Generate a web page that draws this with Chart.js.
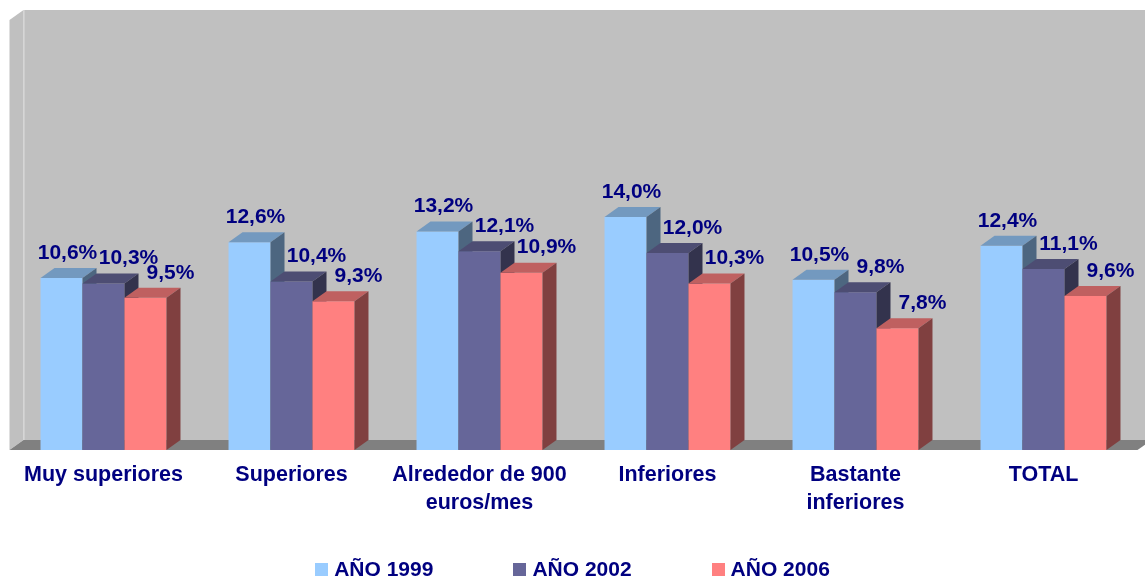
<!DOCTYPE html>
<html>
<head>
<meta charset="utf-8">
<script src="https://cdn.jsdelivr.net/npm/chart.js@4/dist/chart.umd.min.js"></script>
<style>
  body { margin: 0; background: #fff; }
  #wrap { position: relative; width: 1145px; height: 583px; }
  #legend {
    position: absolute; left: 0; right: 0; top: 557px;
    display: flex; justify-content: center; gap: 80px;
    font: bold 21px Arial, "Liberation Sans", sans-serif; color: #000080;
  }
  #legend span.item { display: flex; align-items: center; }
  #legend span.box { display: inline-block; width: 13px; height: 13px; margin-right: 6px; }
</style>
</head>
<body>
<div id="wrap">
  <canvas id="chart"></canvas>
  <div id="legend"></div>
</div>
<script>
var categories = ['Muy superiores', 'Superiores', ['Alrededor de 900', 'euros/mes'], 'Inferiores', ['Bastante', 'inferiores'], 'TOTAL'];
var seriesNames = ['AÑO 1999', 'AÑO 2002', 'AÑO 2006'];
var ano1999 = [10.6, 12.6, 13.2, 14.0, 10.5, 12.4];
var ano2002 = [10.3, 10.4, 12.1, 12.0, 9.8, 11.1];
var ano2006 = [9.5, 9.3, 10.9, 10.3, 7.8, 9.6];

var colors = ['#99CCFF', '#666699', '#FF8080'];
var labelColor = '#000080';
var depth = { dx: 14, dy: 10 };

function shade(hex, f) {
    var n = parseInt(hex.slice(1), 16);
    var r = Math.round(((n >> 16) & 255) * f);
    var g = Math.round(((n >> 8) & 255) * f);
    var b = Math.round((n & 255) * f);
    return 'rgb(' + r + ',' + g + ',' + b + ')';
}

function poly(ctx, pts, fill) {
    ctx.beginPath();
    ctx.moveTo(pts[0][0], pts[0][1]);
    for (var i = 1; i < pts.length; i++) ctx.lineTo(pts[i][0], pts[i][1]);
    ctx.closePath();
    ctx.fillStyle = fill;
    ctx.fill();
}

// fake 3d: walls, floor, bar tops and sides, value labels
var threeD = {
    id: 'threeD',
    beforeDraw: function(chart) {
        var ctx = chart.ctx, a = chart.chartArea, dx = depth.dx, dy = depth.dy;
        ctx.save();
        poly(ctx, [[a.left + dx, a.top - dy], [a.right + dx, a.top - dy], [a.right + dx, a.bottom - dy], [a.left + dx, a.bottom - dy]], '#C0C0C0');
        poly(ctx, [[a.left, a.top], [a.left + dx, a.top - dy], [a.left + dx, a.bottom - dy], [a.left, a.bottom]], '#C0C0C0');
        ctx.strokeStyle = '#DCDCDC';
        ctx.lineWidth = 1;
        ctx.beginPath();
        ctx.moveTo(a.left + dx + 0.5, a.top - dy);
        ctx.lineTo(a.left + dx + 0.5, a.bottom - dy);
        ctx.stroke();
        poly(ctx, [[a.left, a.bottom], [a.left + dx, a.bottom - dy], [a.right + dx, a.bottom - dy], [a.right, a.bottom]], '#808080');
        ctx.restore();
    },
    beforeDatasetDraw: function() {
        return false;
    },
    afterDatasetsDraw: function(chart) {
        var ctx = chart.ctx, dx = depth.dx, dy = depth.dy;
        var floor = chart.chartArea.bottom;
        ctx.save();
        chart.data.datasets.forEach(function(ds, di) {
            var c = colors[di];
            chart.getDatasetMeta(di).data.forEach(function(bar) {
                var x0 = bar.x - bar.width / 2, x1 = bar.x + bar.width / 2;
                var top = bar.y, base = Math.min(bar.base, floor);
                poly(ctx, [[x0, top], [x1, top], [x1, base], [x0, base]], c);
                poly(ctx, [[x0, top], [x0 + dx, top - dy], [x1 + dx, top - dy], [x1, top]], shade(c, 0.75));
                poly(ctx, [[x1, top], [x1 + dx, top - dy], [x1 + dx, base - dy], [x1, base]], shade(c, 0.5));
            });
        });
        ctx.font = 'bold 21px Arial, "Liberation Sans", sans-serif';
        ctx.fillStyle = labelColor;
        ctx.textAlign = 'center';
        ctx.textBaseline = 'middle';
        chart.data.datasets.forEach(function(ds, di) {
            var off = di === 0 ? 6 : 25;
            chart.getDatasetMeta(di).data.forEach(function(bar, i) {
                var txt = ds.data[i].toFixed(1).replace('.', ',') + '%';
                ctx.fillText(txt, bar.x + off, bar.y - 25);
            });
        });
        ctx.restore();
    }
};

var series = [ano1999, ano2002, ano2006];
var datasets = series.map(function(vals, i) {
    return {
        label: seriesNames[i],
        data: vals,
        backgroundColor: colors[i],
        barPercentage: 1,
        categoryPercentage: 0.67
    };
});

var ctx = document.getElementById('chart').getContext('2d');
var myChart = new Chart(ctx, {
    type: 'bar',
    data: {
        labels: categories,
        datasets: datasets
    },
    options: {
        responsive: true,
        maintainAspectRatio: false,
        animation: false,
        layout: { padding: { left: 9.5, right: 7.5, top: 20, bottom: 0 } },
        plugins: {
            legend: { display: false },
            tooltip: { enabled: false }
        },
        scales: {
            x: {
                grid: { display: false },
                border: { display: false },
                ticks: {
                    color: labelColor,
                    padding: 3,
                    maxRotation: 0,
                    autoSkip: false,
                    font: { family: 'Arial, "Liberation Sans", sans-serif', size: 21.5, weight: 'bold', lineHeight: 1.3 }
                },
                afterFit: function(scale) {
                    scale.height = 133;
                }
            },
            y: {
                display: false,
                min: 1,
                max: 25
            }
        }
    },
    plugins: [threeD]
});

var legend = document.getElementById('legend');
seriesNames.forEach(function(name, i) {
    var item = document.createElement('span');
    item.className = 'item';
    var box = document.createElement('span');
    box.className = 'box';
    box.style.background = colors[i];
    item.appendChild(box);
    item.appendChild(document.createTextNode(name));
    legend.appendChild(item);
});
</script>
</body>
</html>
